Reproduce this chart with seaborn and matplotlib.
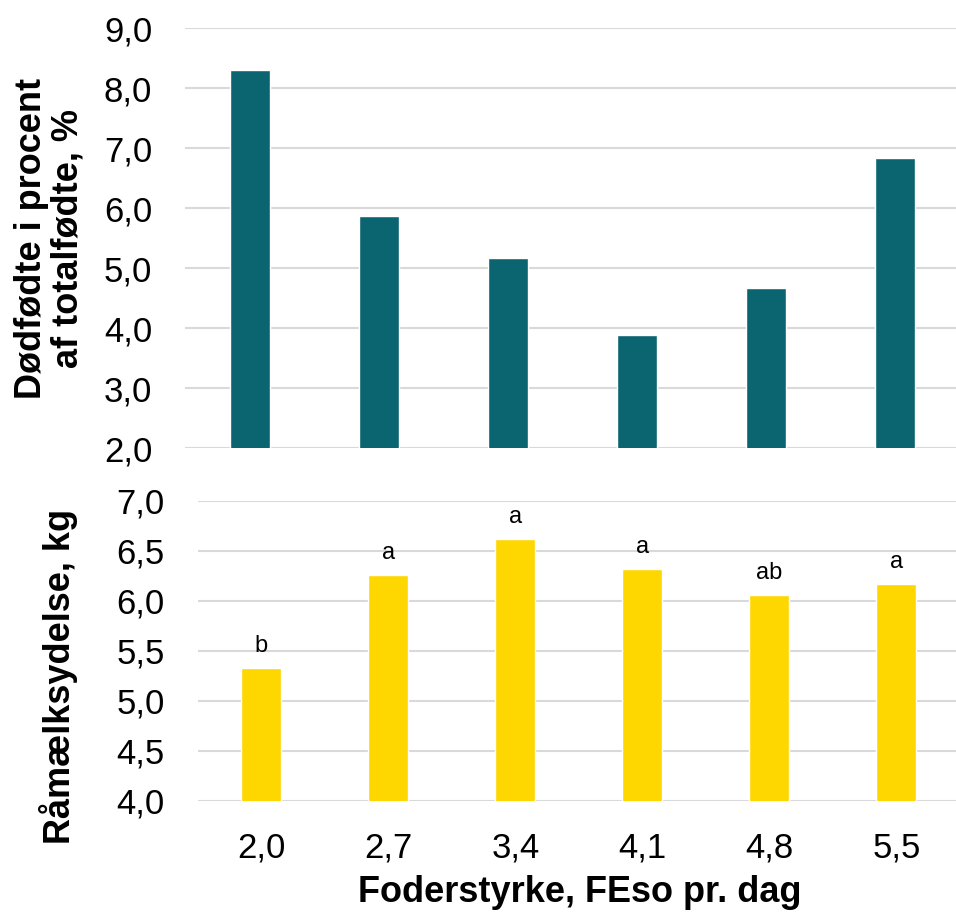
import matplotlib
matplotlib.use("Agg")
import matplotlib.pyplot as plt
import seaborn as sns
import pandas as pd

# data
feed = ["2,0", "2,7", "3,4", "4,1", "4,8", "5,5"]
dead_pct = [8.30, 5.86, 5.16, 3.89, 4.66, 6.83]
colostrum_kg = [5.33, 6.26, 6.62, 6.32, 6.06, 6.17]
letters = ["b", "a", "a", "a", "ab", "a"]

top_ticks = [2.0, 3.0, 4.0, 5.0, 6.0, 7.0, 8.0, 9.0]
bottom_ticks = [4.0, 4.5, 5.0, 5.5, 6.0, 6.5, 7.0]

df = pd.DataFrame({"feed": feed, "dead": dead_pct, "colostrum": colostrum_kg})

sns.set_style("white")
plt.rcParams["font.family"] = ["Liberation Sans", "DejaVu Sans"]
plt.rcParams.update({"text.color": "black", "xtick.color": "black",
                     "ytick.color": "black", "axes.labelcolor": "black"})

teal = "#0b6570"
yellow = "#ffd700"
grid_col = "#d9d9d9"

fig = plt.figure(figsize=(9.56, 9.13), dpi=100)
ax1 = fig.add_axes([0.194, 0.5093, 0.810, 0.460])
ax2 = fig.add_axes([0.207, 0.1227, 0.797, 0.3286])


def comma(v):
    return f"{v:.1f}".replace(".", ",")


# top panel - stillborn pct
sns.barplot(data=df, x="feed", y="dead", color=teal, width=0.31,
            saturation=1, ax=ax1, zorder=3)
ax1.set_ylim(2, 9)
ax1.set_yticks(top_ticks)
ax1.set_yticklabels([comma(t) for t in top_ticks])
ax1.set_xticks([])

# bottom panel - colostrum yield
sns.barplot(data=df, x="feed", y="colostrum", color=yellow, width=0.315,
            saturation=1, ax=ax2, zorder=3)
ax2.set_ylim(4, 7)
ax2.set_yticks(bottom_ticks)
ax2.set_yticklabels([comma(t) for t in bottom_ticks])

for i, (v, lab) in enumerate(zip(colostrum_kg, letters)):
    ax2.annotate(lab, (i, v), xytext=(0, 8), textcoords="offset points",
                 ha="center", va="bottom", fontsize=17)

for ax in (ax1, ax2):
    ax.set_xlabel("")
    ax.set_ylabel("")
    for s in ax.spines.values():
        s.set_visible(False)
    ax.yaxis.grid(True, color=grid_col, linewidth=1.5, zorder=0)
    ax.set_axisbelow(True)
    ax.tick_params(axis="y", length=0, pad=24, labelsize=25)
    ax.tick_params(axis="x", length=0, pad=22, labelsize=25)

fig.text(0.052, 0.739, "Dødfødte i procent\naf totalfødte, %", rotation=90,
         ha="center", va="center", fontsize=26, fontweight="bold",
         multialignment="center", linespacing=1.05)
fig.text(0.061, 0.2596, "Råmælksydelse, kg", rotation=90,
         ha="center", va="center", fontsize=26, fontweight="bold")
fig.text(0.606, 0.012, "Foderstyrke, FEso pr. dag", ha="center", va="baseline",
         fontsize=26, fontweight="bold")

fig.savefig("out.png", dpi=100)
